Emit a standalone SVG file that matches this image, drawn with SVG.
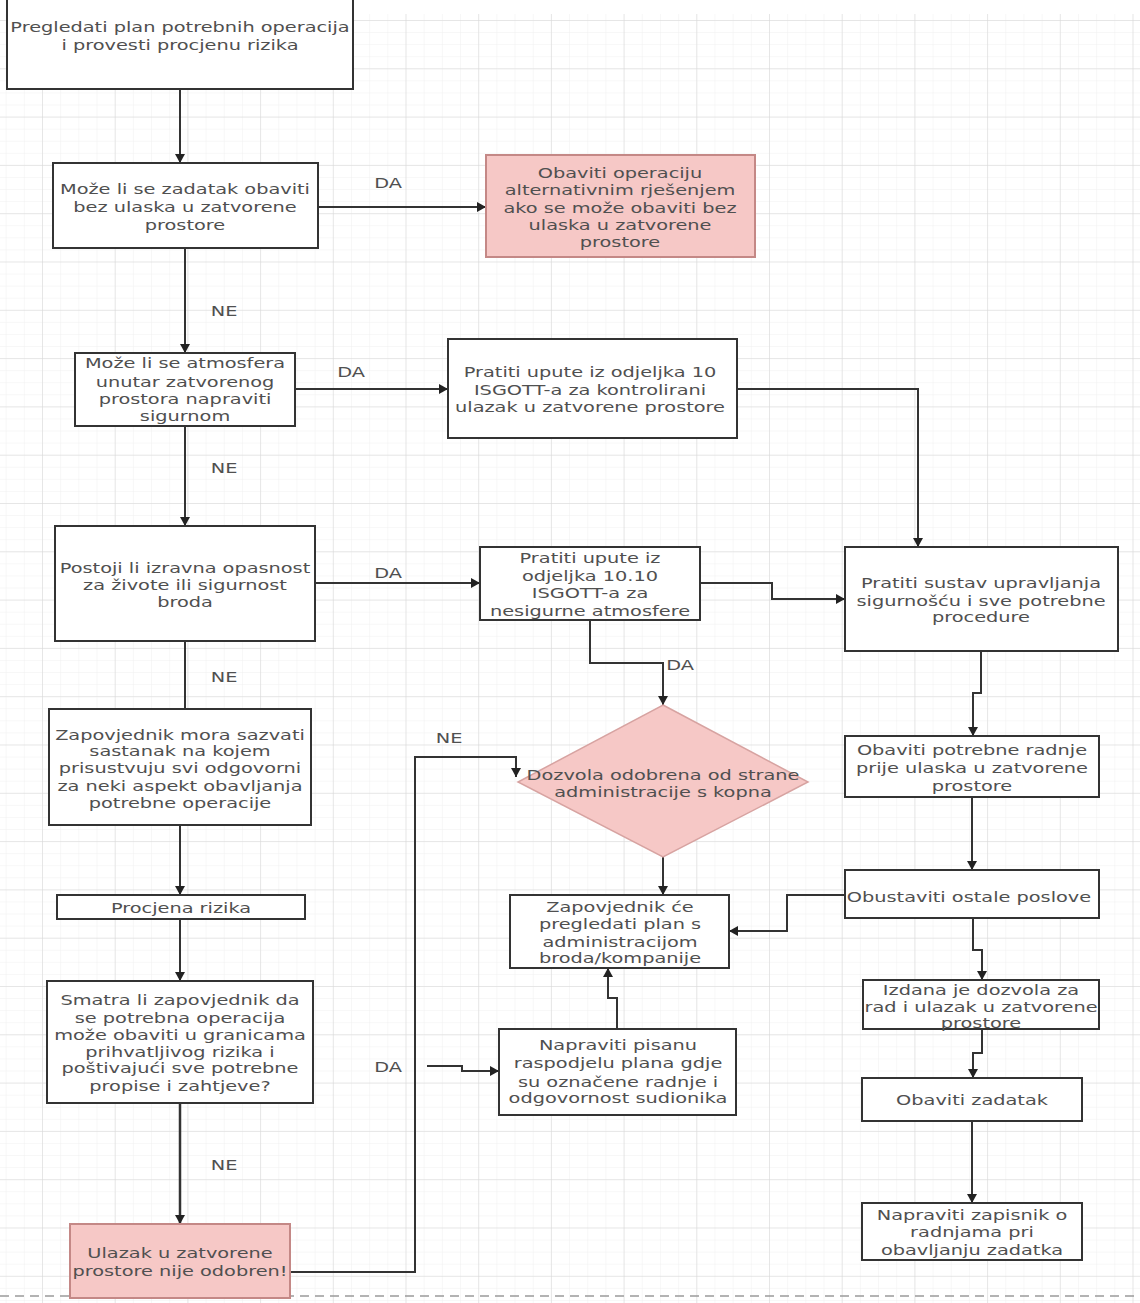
<svg xmlns="http://www.w3.org/2000/svg" width="1140" height="1303" viewBox="0 0 1140 1303">
<style>
.box{fill:#ffffff;stroke:#333333;stroke-width:2}
.pink{fill:#f6c8c6;stroke:#c48886;stroke-width:2}
.dia{fill:#f6c8c6;stroke:#d7a3a1;stroke-width:1.5}
.t{font-family:"DejaVu Sans","Liberation Sans",sans-serif;font-size:14px;fill:#505050;text-anchor:middle}
.lbl{font-family:"DejaVu Sans","Liberation Sans",sans-serif;font-size:14px;fill:#505050;text-anchor:middle}
.c{fill:none;stroke:#333333;stroke-width:2}
.ca{fill:none;stroke:#333333;stroke-width:2;marker-end:url(#ah)}
</style>
<defs>
<pattern id="minor" patternUnits="userSpaceOnUse" x="42" y="20" width="18.175" height="12.075">
<path d="M0,0 V12.075 M0,0 H18.175" fill="none" stroke="#efefef" stroke-width="1"/>
</pattern>
<pattern id="major" patternUnits="userSpaceOnUse" x="42" y="20" width="72.7" height="48.3">
<path d="M0,0 V48.3 M0,0 H72.7" fill="none" stroke="#d6d6d6" stroke-width="1"/>
</pattern>
<marker id="ah" viewBox="0 0 9 10" refX="9" refY="5" markerWidth="9" markerHeight="10" markerUnits="userSpaceOnUse" orient="auto">
<path d="M0,0 L9,5 L0,10 z" fill="#222222"/>
</marker>
</defs>
<rect x="0" y="0" width="1140" height="1303" fill="#ffffff"/>
<rect x="0" y="14" width="1140" height="1289" fill="url(#minor)"/>
<rect x="0" y="14" width="1140" height="1289" fill="url(#major)"/>
<line x1="0" y1="1296" x2="1140" y2="1296" stroke="#9a9a9a" stroke-width="1.5" stroke-dasharray="9 6"/>

<g id="connectors">
<path class="ca" d="M180,89 V163"/>
<path class="ca" d="M318,207 H486"/>
<path class="ca" d="M185,248 V353"/>
<path class="ca" d="M295,389 H448"/>
<path class="ca" d="M737,389 H918 V547"/>
<path class="ca" d="M185,426 V526"/>
<path class="ca" d="M315,583 H480"/>
<path class="ca" d="M700,583 H772 V599 H845"/>
<path class="ca" d="M590,620 V663 H663 V705"/>
<path class="c" d="M185,641 V709"/>
<path class="ca" d="M180,825 V895"/>
<path class="ca" d="M180,919 V981"/>
<path class="ca" d="M180,1103 V1224" style="stroke-width:2.5"/>
<path class="ca" d="M290,1272 H415 V757 H516 V777"/>
<path class="ca" d="M427,1066 H462 V1071 H499"/>
<path class="ca" d="M617,1029 V998 H608 V968"/>
<path class="ca" d="M663,857 V895"/>
<path class="ca" d="M981,651 V693 H973 V736"/>
<path class="ca" d="M972,797 V870"/>
<path class="ca" d="M845,895 H787 V931 H729"/>
<path class="ca" d="M973,918 V950 H982 V980"/>
<path class="ca" d="M982,1029 V1053 H973 V1078"/>
<path class="ca" d="M972,1121 V1203"/>
</g>

<g id="labels">
<text class="lbl" transform="translate(388 0) scale(1.38 1)" x="0" y="188">DA</text>
<text class="lbl" transform="translate(351 0) scale(1.38 1)" x="0" y="377">DA</text>
<text class="lbl" transform="translate(388 0) scale(1.38 1)" x="0" y="578">DA</text>
<text class="lbl" transform="translate(680 0) scale(1.38 1)" x="0" y="670">DA</text>
<text class="lbl" transform="translate(449 0) scale(1.38 1)" x="0" y="743">NE</text>
<text class="lbl" transform="translate(388 0) scale(1.38 1)" x="0" y="1072">DA</text>
<text class="lbl" transform="translate(224 0) scale(1.38 1)" x="0" y="316">NE</text>
<text class="lbl" transform="translate(224 0) scale(1.38 1)" x="0" y="473">NE</text>
<text class="lbl" transform="translate(224 0) scale(1.38 1)" x="0" y="682">NE</text>
<text class="lbl" transform="translate(224 0) scale(1.38 1)" x="0" y="1170">NE</text>
</g>

<g id="n1">
<rect class="box" x="7" y="-5" width="346" height="94"/>
<text class="t" transform="translate(180 0) scale(1.38 1)"><tspan x="0" y="32">Pregledati plan potrebnih operacija</tspan><tspan x="0" y="50">i provesti procjenu rizika</tspan></text>
</g>
<g id="n2">
<rect class="box" x="53" y="163" width="265" height="85"/>
<text class="t" transform="translate(185 0) scale(1.38 1)"><tspan x="0" y="194">Može li se zadatak obaviti</tspan><tspan x="0" y="212">bez ulaska u zatvorene</tspan><tspan x="0" y="230">prostore</tspan></text>
</g>
<g id="n3">
<rect class="pink" x="486" y="155" width="269" height="102"/>
<text class="t" transform="translate(620 0) scale(1.38 1)"><tspan x="0" y="178">Obaviti operaciju</tspan><tspan x="0" y="195">alternativnim rješenjem</tspan><tspan x="0" y="213">ako se može obaviti bez</tspan><tspan x="0" y="230">ulaska u zatvorene</tspan><tspan x="0" y="247">prostore</tspan></text>
</g>
<g id="n4">
<rect class="box" x="75" y="353" width="220" height="73"/>
<text class="t" transform="translate(185 0) scale(1.38 1)"><tspan x="0" y="368">Može li se atmosfera</tspan><tspan x="0" y="387">unutar zatvorenog</tspan><tspan x="0" y="404">prostora napraviti</tspan><tspan x="0" y="421">sigurnom</tspan></text>
</g>
<g id="n5">
<rect class="box" x="448" y="339" width="289" height="99"/>
<text class="t" transform="translate(590 0) scale(1.38 1)"><tspan x="0" y="377">Pratiti upute iz odjeljka 10</tspan><tspan x="0" y="395">ISGOTT-a za kontrolirani</tspan><tspan x="0" y="412">ulazak u zatvorene prostore</tspan></text>
</g>
<g id="n6">
<rect class="box" x="55" y="526" width="260" height="115"/>
<text class="t" transform="translate(185 0) scale(1.38 1)"><tspan x="0" y="573">Postoji li izravna opasnost</tspan><tspan x="0" y="590">za živote ili sigurnost</tspan><tspan x="0" y="607">broda</tspan></text>
</g>
<g id="n7">
<rect class="box" x="480" y="547" width="220" height="73"/>
<text class="t" transform="translate(590 0) scale(1.38 1)"><tspan x="0" y="563">Pratiti upute iz</tspan><tspan x="0" y="581">odjeljka 10.10</tspan><tspan x="0" y="598">ISGOTT-a za</tspan><tspan x="0" y="616">nesigurne atmosfere</tspan></text>
</g>
<g id="n8">
<rect class="box" x="845" y="547" width="273" height="104"/>
<text class="t" transform="translate(981 0) scale(1.38 1)"><tspan x="0" y="588">Pratiti sustav upravljanja</tspan><tspan x="0" y="606">sigurnošću i sve potrebne</tspan><tspan x="0" y="622">procedure</tspan></text>
</g>
<g id="n9">
<polygon class="dia" points="663,705 808,782 663,857 518,782"/>
<text class="t" transform="translate(663 0) scale(1.38 1)"><tspan x="0" y="780">Dozvola odobrena od strane</tspan><tspan x="0" y="797">administracije s kopna</tspan></text>
</g>
<g id="n10">
<rect class="box" x="49" y="709" width="262" height="116"/>
<text class="t" transform="translate(180 0) scale(1.38 1)"><tspan x="0" y="740">Zapovjednik mora sazvati</tspan><tspan x="0" y="756">sastanak na kojem</tspan><tspan x="0" y="773">prisustvuju svi odgovorni</tspan><tspan x="0" y="791">za neki aspekt obavljanja</tspan><tspan x="0" y="808">potrebne operacije</tspan></text>
</g>
<g id="n11">
<rect class="box" x="845" y="736" width="254" height="61"/>
<text class="t" transform="translate(972 0) scale(1.38 1)"><tspan x="0" y="755">Obaviti potrebne radnje</tspan><tspan x="0" y="773">prije ulaska u zatvorene</tspan><tspan x="0" y="791">prostore</tspan></text>
</g>
<g id="n12">
<rect class="box" x="845" y="870" width="254" height="48"/>
<text class="t" transform="translate(969 0) scale(1.38 1)" x="0" y="902">Obustaviti ostale poslove</text>
</g>
<g id="n13">
<rect class="box" x="57" y="895" width="248" height="24"/>
<text class="t" transform="translate(181 0) scale(1.38 1)" x="0" y="913">Procjena rizika</text>
</g>
<g id="n14">
<rect class="box" x="510" y="895" width="219" height="73"/>
<text class="t" transform="translate(620 0) scale(1.38 1)"><tspan x="0" y="912">Zapovjednik će</tspan><tspan x="0" y="929">pregledati plan s</tspan><tspan x="0" y="947">administracijom</tspan><tspan x="0" y="963">broda/kompanije</tspan></text>
</g>
<g id="n15">
<rect class="box" x="47" y="981" width="266" height="122"/>
<text class="t" transform="translate(180 0) scale(1.38 1)"><tspan x="0" y="1005">Smatra li zapovjednik da</tspan><tspan x="0" y="1023">se potrebna operacija</tspan><tspan x="0" y="1040">može obaviti u granicama</tspan><tspan x="0" y="1057">prihvatljivog rizika i</tspan><tspan x="0" y="1073">poštivajući sve potrebne</tspan><tspan x="0" y="1091">propise i zahtjeve?</tspan></text>
</g>
<g id="n16">
<rect class="box" x="863" y="980" width="236" height="49"/>
<text class="t" transform="translate(981 0) scale(1.38 1)"><tspan x="0" y="995">Izdana je dozvola za</tspan><tspan x="0" y="1012">rad i ulazak u zatvorene</tspan><tspan x="0" y="1028">prostore</tspan></text>
</g>
<g id="n17">
<rect class="box" x="499" y="1029" width="237" height="86"/>
<text class="t" transform="translate(618 0) scale(1.38 1)"><tspan x="0" y="1050">Napraviti pisanu</tspan><tspan x="0" y="1068">raspodjelu plana gdje</tspan><tspan x="0" y="1087">su označene radnje i</tspan><tspan x="0" y="1103">odgovornost sudionika</tspan></text>
</g>
<g id="n18">
<rect class="box" x="862" y="1078" width="220" height="43"/>
<text class="t" transform="translate(972 0) scale(1.38 1)" x="0" y="1105">Obaviti zadatak</text>
</g>
<g id="n19">
<rect class="box" x="862" y="1203" width="220" height="57"/>
<text class="t" transform="translate(972 0) scale(1.38 1)"><tspan x="0" y="1220">Napraviti zapisnik o</tspan><tspan x="0" y="1237">radnjama pri</tspan><tspan x="0" y="1255">obavljanju zadatka</tspan></text>
</g>
<g id="n20">
<rect class="pink" x="70" y="1224" width="220" height="74"/>
<text class="t" transform="translate(180 0) scale(1.38 1)"><tspan x="0" y="1258">Ulazak u zatvorene</tspan><tspan x="0" y="1276">prostore nije odobren!</tspan></text>
</g>
</svg>
